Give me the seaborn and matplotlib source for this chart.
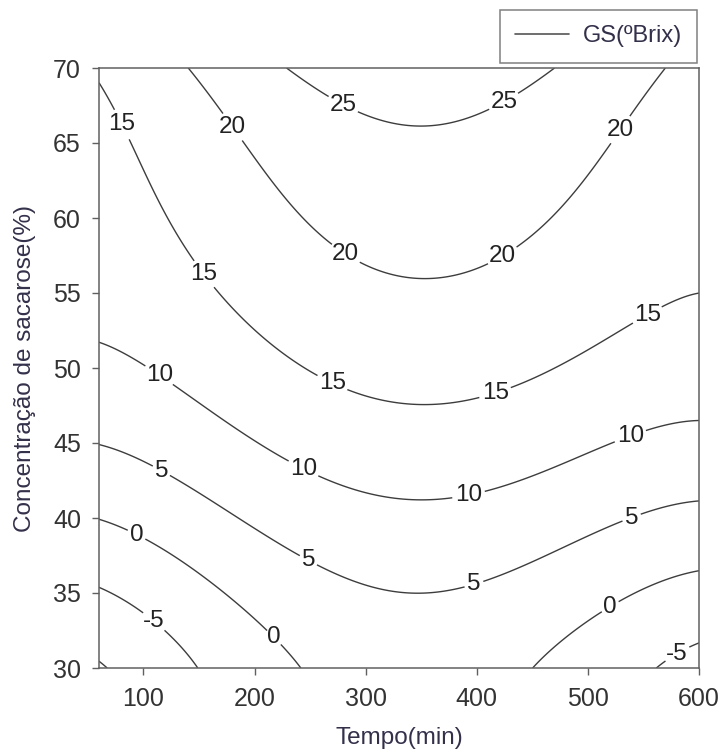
import numpy as np
import pandas as pd
import matplotlib
matplotlib.use("Agg")
import matplotlib.pyplot as plt
from matplotlib.lines import Line2D
import seaborn as sns

# ---- data: points along each contour (Tempo, Concentração) ----
levels = [-10, -5, 0, 5, 10, 15, 20, 25]

c_m10_x = [60.4, 70.0]
c_m10_y = [30.8, 30.0]

c_m5_x = [60.4, 97, 110.5, 121, 145, 561, 580, 600]
c_m5_y = [35.0, 33.9, 33.2, 32.3, 30.0, 30.0, 31.0, 31.8]

c_0_x = [60.4, 92.5, 103, 151, 199, 217, 226, 242.6, 457, 505, 520, 532, 600]
c_0_y = [39.7, 38.7, 38.3, 36.6, 33.0, 32.0, 31.3, 30.0, 30.0, 33.4, 34.1, 34.7, 36.2]

c_5_x = [60.4, 100, 116.5, 127, 193, 250, 295, 343, 397, 409, 505, 540, 600]
c_5_y = [45.1, 43.7, 43.2, 42.8, 39.9, 37.4, 35.8, 35.0, 35.7, 36.1, 39.4, 39.9, 41.0]

c_10_x = [60.4, 100, 113, 127, 229, 244, 259, 295, 349, 392.6, 406, 475, 538, 550, 600]
c_10_y = [52.2, 50.4, 49.4, 48.9, 43.9, 43.3, 42.8, 41.8, 41.1, 41.4, 41.8, 43.7, 45.5, 45.9, 46.7]

c_15_x = [60.4, 73, 77, 84.4, 97, 121, 145, 157, 169, 211, 256, 268, 349, 418, 457, 475, 553, 600]
c_15_y = [70.0, 67.1, 66.1, 65.2, 62.8, 59.4, 57.3, 56.4, 55.4, 52.3, 49.3, 48.7, 47.1, 48.0, 49.4, 49.9, 53.6, 55.0]

c_20_x = [137.5, 169, 179, 190, 226, 268, 280, 295, 343, 422.7, 439, 481, 519, 529, 541, 570]
c_20_y = [70.0, 67.0, 66.0, 65.1, 62.1, 58.6, 57.4, 56.9, 55.7, 57.5, 58.6, 61.2, 65.0, 65.9, 67.0, 70.0]

c_25_x = [229, 262, 281.6, 295, 340, 424, 439, 472]
c_25_y = [70.0, 68.1, 67.9, 67.2, 66.2, 67.8, 68.3, 70.0]

x_ticks = [100, 200, 300, 400, 500, 600]
y_ticks = [30, 35, 40, 45, 50, 55, 60, 65, 70]
x_label = "Tempo(min)"
y_label = "Concentração de sacarose(%)"
legend_label = "GS(ºBrix)"

# contour label anchor points (where the numbers sit in the picture)
label_pos = [(77, 66.1), (157, 56.4), (268, 48.7), (418, 48.0), (553, 53.6),
             (179, 66.0), (280, 57.4), (423, 57.5), (529, 65.9),
             (282, 67.9), (424, 67.8),
             (113, 49.4), (244, 43.3), (393, 41.4), (538, 45.5),
             (116.5, 43.2), (250, 37.4), (397, 35.7), (540, 39.9),
             (92.5, 38.7), (217, 32.0), (520, 34.1),
             (110.5, 33.2), (580, 31.0)]

# ---- build a table of traced points ----
traces = [(-10, c_m10_x, c_m10_y), (-5, c_m5_x, c_m5_y), (0, c_0_x, c_0_y),
          (5, c_5_x, c_5_y), (10, c_10_x, c_10_y), (15, c_15_x, c_15_y),
          (20, c_20_x, c_20_y), (25, c_25_x, c_25_y)]
df = pd.concat([pd.DataFrame({"tempo": xs, "conc": ys, "gs": lv}) for lv, xs, ys in traces],
               ignore_index=True)

# smooth surface through the traced contour points (least-squares polynomial)
def design(u, v):
    return np.column_stack([u**i * v**j for i in range(5) for j in range(5) if i + j <= 4])

u = (df["tempo"].values - 330) / 270
v = (df["conc"].values - 50) / 20
coef, *_ = np.linalg.lstsq(design(u, v), df["gs"].values, rcond=None)

gx = np.linspace(60, 600, 400)
gy = np.linspace(30, 70, 400)
GX, GY = np.meshgrid(gx, gy)
GZ = (design(((GX - 330) / 270).ravel(), ((GY - 50) / 20).ravel()) @ coef).reshape(GX.shape)

# ---- drawing ----
sns.set_theme(style="ticks")
plt.rcParams["font.family"] = ["Liberation Sans", "DejaVu Sans"]

fig = plt.figure(figsize=(7.23, 7.53), dpi=100)
ax = fig.add_axes([99 / 723, 1 - 668 / 753, 600 / 723, 600 / 753])

line_col = "#3d3d3d"
cs = ax.contour(GX, GY, GZ, levels=levels, colors=line_col, linewidths=1.0,
                linestyles="solid", negative_linestyles="solid")
texts = ax.clabel(cs, inline=True, inline_spacing=3, fmt="%d", fontsize=17.5,
                  colors="#222222", manual=label_pos)
for t in texts:
    t.set_rotation(0)

ax.set_xlim(60, 600)
ax.set_ylim(30, 70)
ax.set_xticks(x_ticks)
ax.set_yticks(y_ticks)
ax.tick_params(axis="both", direction="out", length=5, width=1.0, color="#606060",
               labelsize=18, labelcolor="#333333")
ax.tick_params(axis="x", pad=9)
ax.tick_params(axis="y", pad=8)
for s in ax.spines.values():
    s.set_color("#606060")
    s.set_linewidth(1.1)

lab_col = "#33304a"
ax.set_xlabel(x_label, fontsize=17.5, color=lab_col, labelpad=11)
ax.set_ylabel(y_label, fontsize=17.5, color=lab_col, labelpad=12)

handle = Line2D([], [], color="#555555", lw=1.2)
leg = fig.legend(handles=[handle], labels=[legend_label], loc="upper right",
                 bbox_to_anchor=(697 / 723, 1 - 10 / 753), borderaxespad=0,
                 frameon=True, fancybox=False, fontsize=17, handlelength=2.3,
                 handletextpad=0.55, borderpad=0.65)
leg.get_frame().set_edgecolor("#606060")
leg.get_frame().set_linewidth(1.1)
for t in leg.get_texts():
    t.set_color(lab_col)

fig.savefig("out.png", dpi=100)
